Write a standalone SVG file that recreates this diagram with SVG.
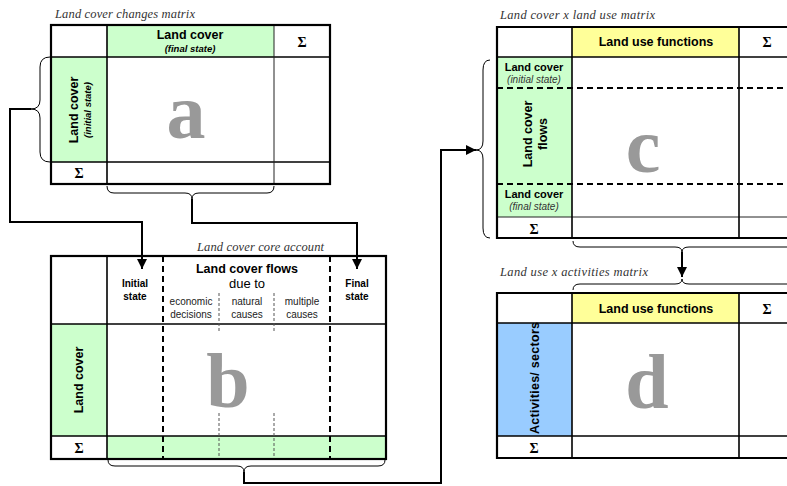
<svg xmlns="http://www.w3.org/2000/svg" width="787" height="486" viewBox="0 0 787 486">
<defs>
<marker id="arr" viewBox="0 0 10 10" refX="10" refY="5" markerWidth="10" markerHeight="10" markerUnits="userSpaceOnUse" orient="auto"><path d="M0,0 L10,5 L0,10 z" fill="#000"/></marker>
<style>
.t{font-family:"Liberation Serif","Times New Roman",serif;font-style:italic;font-size:12.5px;fill:#333}
.h{font-family:"Liberation Sans",Arial,sans-serif;font-weight:bold;font-size:12.5px;fill:#000}
.hi{font-family:"Liberation Sans",Arial,sans-serif;font-weight:bold;font-style:italic;font-size:9.5px;fill:#000}
.ci{font-family:"Liberation Sans",Arial,sans-serif;font-style:italic;font-size:10px;fill:#333}
.s{font-family:"Liberation Sans",Arial,sans-serif;font-weight:bold;font-size:10px;fill:#000}
.r{font-family:"Liberation Sans",Arial,sans-serif;font-size:10px;fill:#222}
.r13{font-family:"Liberation Sans",Arial,sans-serif;font-size:13px;fill:#000}
.sig{font-family:"Liberation Serif","Times New Roman",serif;font-weight:bold;font-size:14px;fill:#000}
.big{font-family:"Liberation Serif","Times New Roman",serif;font-weight:bold;font-size:78px;fill:#999}
.o{fill:none;stroke:#000;stroke-width:2.2}
.l{stroke:#000;stroke-width:1.6;fill:none}
.lt{stroke:#222;stroke-width:1;fill:none}
.d{stroke:#000;stroke-width:2;stroke-dasharray:6,4;fill:none}
.dt{stroke:#555;stroke-width:1;stroke-dasharray:3,2;fill:none}
.br{fill:none;stroke:#000;stroke-width:1}
.c{fill:none;stroke:#000;stroke-width:2}
.g{fill:#ccffcc}
.y{fill:#ffff99}
.b{fill:#99ccff}
</style>
</defs>
<rect width="787" height="486" fill="#fff"/>

<g id="matrix-a">
<text class="t" x="55" y="18" textLength="140" lengthAdjust="spacing">Land cover changes matrix</text>
<rect class="g" x="107" y="25" width="167" height="32"/>
<rect class="g" x="51" y="57" width="56" height="105"/>
<line class="l" x1="51" y1="57" x2="330" y2="57"/>
<line class="l" x1="51" y1="162" x2="330" y2="162"/>
<line class="l" x1="107" y1="25" x2="107" y2="184"/>
<line class="lt" x1="274" y1="25" x2="274" y2="184"/>
<rect class="o" x="51" y="25" width="279" height="159"/>
<text class="h" x="190" y="39" text-anchor="middle">Land cover</text>
<text class="hi" x="190" y="52" text-anchor="middle">(final state)</text>
<text class="sig" x="302" y="47" text-anchor="middle">Σ</text>
<text class="sig" x="79" y="178" text-anchor="middle">Σ</text>
<text class="h" transform="translate(78,110) rotate(-90)" text-anchor="middle">Land cover</text>
<text class="hi" transform="translate(91,110) rotate(-90)" text-anchor="middle">(initial state)</text>
<text class="big" x="186" y="138" text-anchor="middle">a</text>
</g>

<g id="matrix-b">
<text class="t" x="197" y="251" textLength="127" lengthAdjust="spacing">Land cover core account</text>
<rect class="g" x="51" y="324" width="56" height="112"/>
<rect class="g" x="107" y="436" width="279" height="23"/>
<line class="l" x1="51" y1="324" x2="386" y2="324"/>
<line class="l" x1="51" y1="436" x2="386" y2="436"/>
<line class="l" x1="107" y1="256" x2="107" y2="459"/>
<line class="d" x1="163" y1="256" x2="163" y2="459"/>
<line class="d" x1="330" y1="256" x2="330" y2="459"/>
<line class="dt" x1="219" y1="293" x2="219" y2="333"/>
<line class="dt" x1="274" y1="293" x2="274" y2="333"/>
<line class="dt" x1="219" y1="413" x2="219" y2="459"/>
<line class="dt" x1="274" y1="413" x2="274" y2="459"/>
<rect class="o" x="51" y="256" width="335" height="203"/>
<text class="h" x="247" y="273" text-anchor="middle">Land cover flows</text>
<text class="r13" x="247" y="288" text-anchor="middle">due to</text>
<text class="s" x="135" y="287" text-anchor="middle">Initial</text>
<text class="s" x="135" y="300" text-anchor="middle">state</text>
<text class="s" x="357" y="287" text-anchor="middle">Final</text>
<text class="s" x="357" y="300" text-anchor="middle">state</text>
<text class="r" x="191" y="305" text-anchor="middle">economic</text>
<text class="r" x="191" y="318" text-anchor="middle">decisions</text>
<text class="r" x="247" y="305" text-anchor="middle">natural</text>
<text class="r" x="247" y="318" text-anchor="middle">causes</text>
<text class="r" x="302" y="305" text-anchor="middle">multiple</text>
<text class="r" x="302" y="318" text-anchor="middle">causes</text>
<text class="h" transform="translate(83,380) rotate(-90)" text-anchor="middle">Land cover</text>
<text class="sig" x="79" y="453" text-anchor="middle">Σ</text>
<text class="big" x="228" y="407" text-anchor="middle">b</text>
</g>

<g id="matrix-c">
<text class="t" x="500" y="19" textLength="155" lengthAdjust="spacing">Land cover x land use matrix</text>
<rect class="y" x="572" y="27" width="167" height="30"/>
<rect class="g" x="497" y="57" width="75" height="160"/>
<line class="l" x1="497" y1="57" x2="787" y2="57"/>
<line class="lt" x1="497" y1="217" x2="787" y2="217"/>
<line class="d" x1="497" y1="88" x2="787" y2="88"/>
<line class="d" x1="497" y1="184" x2="787" y2="184"/>
<line class="l" x1="572" y1="27" x2="572" y2="238"/>
<line class="l" x1="739" y1="27" x2="739" y2="238"/>
<path class="o" d="M790,27 H497 V238 H790"/>
<text class="h" x="656" y="46" text-anchor="middle">Land use functions</text>
<text class="sig" x="767" y="47" text-anchor="middle">Σ</text>
<text class="s" x="534" y="71" text-anchor="middle" style="font-size:11px">Land cover</text>
<text class="ci" x="534" y="83" text-anchor="middle">(initial state)</text>
<text class="h" transform="translate(532,134) rotate(-90)" text-anchor="middle">Land cover</text>
<text class="h" transform="translate(547,134) rotate(-90)" text-anchor="middle">flows</text>
<text class="s" x="534" y="198" text-anchor="middle" style="font-size:11px">Land cover</text>
<text class="ci" x="534" y="210" text-anchor="middle">(final state)</text>
<text class="sig" x="534" y="234" text-anchor="middle">Σ</text>
<text class="big" x="643" y="172" text-anchor="middle">c</text>
</g>

<g id="matrix-d">
<text class="t" x="500" y="276" textLength="148" lengthAdjust="spacing">Land use x activities matrix</text>
<rect class="y" x="572" y="293" width="167" height="30"/>
<rect class="b" x="497" y="323" width="75" height="113"/>
<line class="l" x1="497" y1="323" x2="787" y2="323"/>
<line class="l" x1="497" y1="436" x2="787" y2="436"/>
<line class="l" x1="572" y1="293" x2="572" y2="458"/>
<line class="l" x1="739" y1="293" x2="739" y2="458"/>
<path class="o" d="M790,293 H497 V458 H790"/>
<text class="h" x="656" y="313" text-anchor="middle">Land use functions</text>
<text class="sig" x="767" y="314" text-anchor="middle">Σ</text>
<text class="h" transform="translate(539,378) rotate(-90)" text-anchor="middle" textLength="112" lengthAdjust="spacing">Activities/ sectors</text>
<text class="sig" x="534" y="453" text-anchor="middle">Σ</text>
<text class="big" x="647" y="408" text-anchor="middle">d</text>
</g>

<g id="connectors">
<path class="br" d="M50,57 q-10,0 -10,10 V100 q0,9 -9,9 q9,0 9,9 V152 q0,10 10,10"/>
<path class="br" d="M107,186 q0,7 7,7 H185 q7,0 7,6 q0,-6 7,-6 H267 q7,0 7,-7"/>
<path class="br" d="M108,460 q0,6 7,6 H237 q7,0 7,6 q0,-6 7,-6 H378 q7,0 7,-6"/>
<path class="br" d="M490,60 q-7,0 -7,10 V141 q0,9 -7,9 q7,0 7,9 V228 q0,10 7,10"/>
<path class="br" d="M573,241 q0,6 7,6 H675 q7,0 7,5 q0,-5 7,-5 H800"/>
<path class="br" d="M573,290 q0,-6 7,-6 H675 q7,0 7,-5 q0,5 7,5 H800"/>
<path class="c" d="M31,109 H10 V222 H142 V269" marker-end="url(#arr)"/>
<path class="c" d="M192,199 V223 H357 V269" marker-end="url(#arr)"/>
<path class="c" d="M244,472 V483 H441 V150 H476" marker-end="url(#arr)"/>
<path class="c" d="M682,252 V277" marker-end="url(#arr)"/>
</g>
</svg>
